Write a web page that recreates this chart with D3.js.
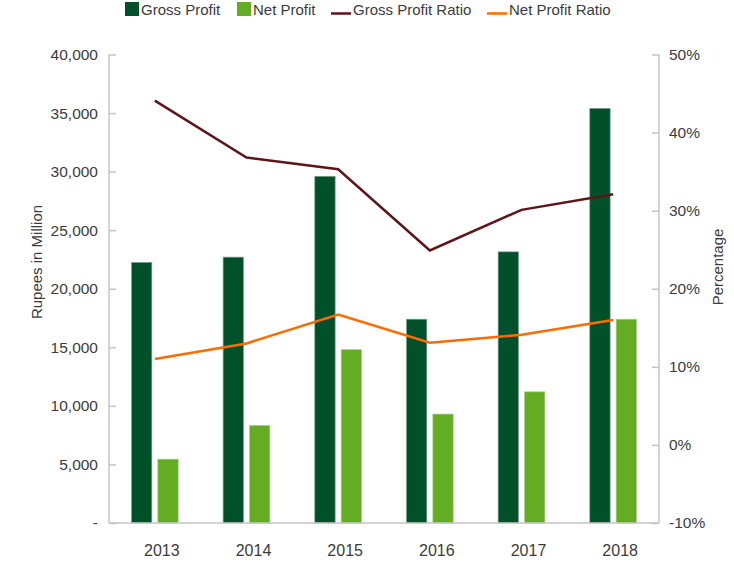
<html>
<head>
	<style>
		body { margin: 0; background: #fff; }
		svg { position: absolute; top: 0px; left: 0px; font-family: "Liberation Sans", Arial, sans-serif; }
		.axis path, .axis line { stroke: #c4c4c4; stroke-width: 1.5px; }
		.axis text { fill: #3c3c3c; font-size: 15.5px; }
		.axis.x text { font-size: 16px; }
		.title { fill: #3c3c3c; font-size: 15px; }
		.legend text { fill: #3c3c3c; font-size: 15px; }
		.ratio { fill: none; stroke-width: 2.5px; stroke-linejoin: miter; }
	</style>
	<script src="https://cdnjs.cloudflare.com/ajax/libs/d3/7.8.5/d3.min.js"></script>
</head>
<body>
	<svg width="734" height="570"></svg>
</body>
<script>
var years = ["2013", "2014", "2015", "2016", "2017", "2018"];
var grossProfit = [22250, 22700, 29600, 17400, 23150, 35400];
var netProfit = [5450, 8330, 14800, 9300, 11200, 17400];
var grossRatio = [44.1, 36.8, 35.3, 24.9, 30.1, 32.1];
var netRatio = [11.0, 13.0, 16.7, 13.1, 14.1, 16.0];
var leftTicks = [0, 5000, 10000, 15000, 20000, 25000, 30000, 35000, 40000];
var rightTicks = [-10, 0, 10, 20, 30, 40, 50];

var colors = { gross: "#00502a", net: "#64ad22", grossRatio: "#5e1517", netRatio: "#ff6b00" };

var svg = d3.select("svg"),
	plotLeft = 109, plotRight = 659, plotTop = 54.5, plotBottom = 523;

var x0 = d3.scaleBand().domain(years).range([plotLeft, plotRight]).paddingInner(0.49).paddingOuter(0.245);
var x1 = d3.scaleBand().domain(["gross", "net"]).range([0, x0.bandwidth()]).paddingInner(0.228);
var yL = d3.scaleLinear().domain([0, 40000]).range([plotBottom, plotTop]);
var yR = d3.scaleLinear().domain([-10, 50]).range([plotBottom, plotTop]);

var rows = years.map(function(y, i) {
	return { year: y, gross: grossProfit[i], net: netProfit[i], gr: grossRatio[i], nr: netRatio[i] };
});

// bars
var groups = svg.append("g").selectAll("g").data(rows).enter().append("g")
	.attr("transform", function(d) { return "translate(" + x0(d.year) + ",0)"; });

groups.append("rect")
	.attr("x", x1("gross")).attr("width", x1.bandwidth())
	.attr("y", function(d) { return yL(d.gross); })
	.attr("height", function(d) { return plotBottom - yL(d.gross); })
	.attr("fill", colors.gross).attr("stroke", "#7fa58f").attr("stroke-width", 0.7);

groups.append("rect")
	.attr("x", x1("net")).attr("width", x1.bandwidth())
	.attr("y", function(d) { return yL(d.net); })
	.attr("height", function(d) { return plotBottom - yL(d.net); })
	.attr("fill", colors.net).attr("stroke", "#a9d08a").attr("stroke-width", 0.7);

// axes
var axL = d3.axisRight(yL).tickValues(leftTicks).tickSize(7)
	.tickFormat(function(d) { return d === 0 ? "-" : d3.format(",")(d); });
var gL = svg.append("g").attr("class", "axis").attr("transform", "translate(" + plotLeft + ",0)").call(axL);
gL.select(".domain").attr("d", "M0," + plotTop + "V" + plotBottom);
gL.selectAll("text").attr("x", -11).attr("text-anchor", "end");

var axR = d3.axisLeft(yR).tickValues(rightTicks).tickSize(7)
	.tickFormat(function(d) { return d + "%"; });
var gR = svg.append("g").attr("class", "axis").attr("transform", "translate(" + plotRight + ",0)").call(axR);
gR.select(".domain").attr("d", "M0," + plotTop + "V" + plotBottom);
gR.selectAll("text").attr("x", 10).attr("text-anchor", "start");

var axB = d3.axisBottom(x0).tickSize(0);
var gB = svg.append("g").attr("class", "axis x").attr("transform", "translate(0," + plotBottom + ")").call(axB);
gB.select(".domain").attr("d", "M" + plotLeft + ",0H" + plotRight);
gB.selectAll("text").attr("y", 22).attr("dx", 7);

// ratio lines
var cx = function(d) { return x0(d.year) + x0.bandwidth() / 2; };
var lineG = d3.line().x(cx).y(function(d) { return yR(d.gr); });
var lineN = d3.line().x(cx).y(function(d) { return yR(d.nr); });
svg.append("path").datum(rows).attr("class", "ratio").attr("stroke", colors.grossRatio).attr("d", lineG);
svg.append("path").datum(rows).attr("class", "ratio").attr("stroke", colors.netRatio).attr("d", lineN);

// axis titles
svg.append("text").attr("class", "title").attr("text-anchor", "middle")
	.attr("transform", "translate(42,262) rotate(-90)").text("Rupees in Million");
svg.append("text").attr("class", "title").attr("text-anchor", "middle")
	.attr("transform", "translate(723,267) rotate(-90)").text("Percentage");

// legend
var legend = svg.append("g").attr("class", "legend");
var items = [
	{ label: "Gross Profit", type: "rect", color: colors.gross, x: 125 },
	{ label: "Net Profit", type: "rect", color: colors.net, x: 237 },
	{ label: "Gross Profit Ratio", type: "line", color: colors.grossRatio, x: 331 },
	{ label: "Net Profit Ratio", type: "line", color: colors.netRatio, x: 487 }
];
items.forEach(function(it) {
	if (it.type === "rect") {
		legend.append("rect").attr("x", it.x).attr("y", 2).attr("width", 14).attr("height", 14).attr("fill", it.color);
		legend.append("text").attr("x", it.x + 16).attr("y", 15).text(it.label);
	} else {
		legend.append("line").attr("x1", it.x).attr("x2", it.x + 20).attr("y1", 13.5).attr("y2", 13.5)
			.attr("stroke", it.color).attr("stroke-width", 2.5);
		legend.append("text").attr("x", it.x + 22).attr("y", 15).text(it.label);
	}
});
</script>
</html>
